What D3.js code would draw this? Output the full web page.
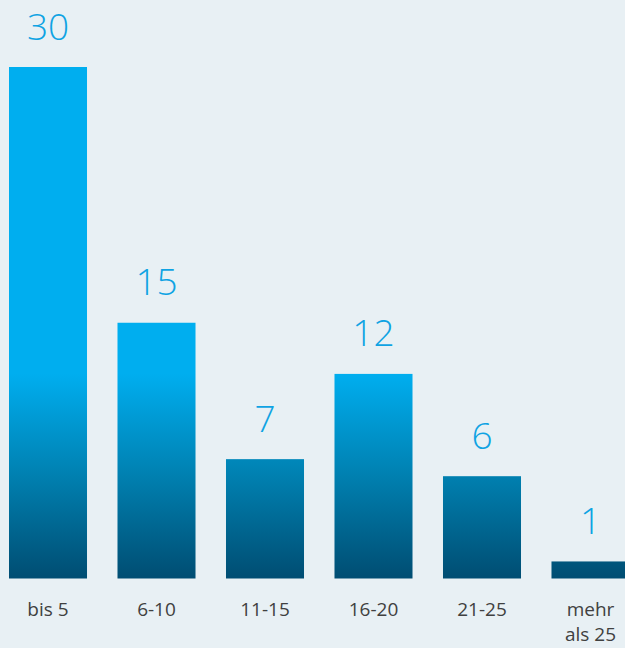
<!DOCTYPE html>
<html>
<head>
  <meta charset="utf-8">
  <script src="https://d3js.org/d3.v7.min.js"></script>
  <style>
    body { margin: 0; background: #e8f0f4; }
  </style>
</head>
<body>
  <script>
    let categories = ["bis 5", "6-10", "11-15", "16-20", "21-25", "mehr\nals 25"];
    let values = [30, 15, 7, 12, 6, 1];

    let width = 625;
    let height = 648;

    let svg = d3.select("body")
      .append("svg")
      .attr("width", width)
      .attr("height", height);

    svg.append("rect")
      .attr("width", width)
      .attr("height", height)
      .attr("fill", "#e8f0f4");

    let x = d3.scaleBand()
      .domain(categories)
      .range([9, 629.5])
      .paddingInner(0.281)
      .paddingOuter(0);

    let y = d3.scaleLinear()
      .domain([0, 30])
      .range([578.5, 67]);

    // gradient is fixed to the page, so short bars only get the dark part
    let grad = svg.append("defs").append("linearGradient")
      .attr("id", "barGrad")
      .attr("gradientUnits", "userSpaceOnUse")
      .attr("x1", 0).attr("x2", 0)
      .attr("y1", y(30)).attr("y2", y(0));
    grad.append("stop").attr("offset", 0).attr("stop-color", "#00aeef");
    grad.append("stop").attr("offset", 0.6).attr("stop-color", "#00aeef");
    grad.append("stop").attr("offset", 0.8).attr("stop-color", "#0080b0");
    grad.append("stop").attr("offset", 1).attr("stop-color", "#004d72");

    let data = categories.map(function(c, i) { return { cat: c, val: values[i] }; });

    svg.append("g").selectAll("rect")
      .data(data)
      .enter()
      .append("rect")
      .attr("x", function(d) { return x(d.cat); })
      .attr("y", function(d) { return y(d.val); })
      .attr("width", x.bandwidth())
      .attr("height", function(d) { return y(0) - y(d.val); })
      .attr("fill", "url(#barGrad)");

    svg.append("g").selectAll("text")
      .data(data)
      .enter()
      .append("text")
      .attr("x", function(d) { return x(d.cat) + x.bandwidth() / 2; })
      .attr("y", function(d) { return y(d.val) - 27.5; })
      .attr("text-anchor", "middle")
      .attr("font-family", "'Open Sans', sans-serif")
      .attr("font-weight", 300)
      .attr("font-size", 37)
      .attr("fill", "#0fa3e3")
      .text(function(d) { return d.val; });

    let labels = svg.append("g").selectAll("text")
      .data(data)
      .enter()
      .append("text")
      .attr("x", function(d) { return x(d.cat) + x.bandwidth() / 2; })
      .attr("y", 616)
      .attr("text-anchor", "middle")
      .attr("font-family", "'Open Sans', sans-serif")
      .attr("font-size", 19)
      .attr("fill", "#404040");

    labels.selectAll("tspan")
      .data(function(d) {
        let cx = x(d.cat) + x.bandwidth() / 2;
        return d.cat.split("\n").map(function(s) { return { s: s, cx: cx }; });
      })
      .enter()
      .append("tspan")
      .attr("x", function(d) { return d.cx; })
      .attr("dy", function(d, i) { return i === 0 ? 0 : 25; })
      .text(function(d) { return d.s; });
  </script>
</body>
</html>
